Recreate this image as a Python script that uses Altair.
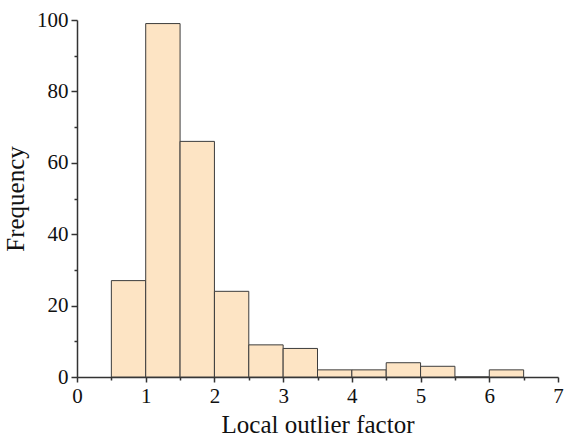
import altair as alt
import pandas as pd

bin_start = [0.5, 1.0, 1.5, 2.0, 2.5, 3.0, 3.5, 4.0, 4.5, 5.0, 5.5, 6.0]
bin_end = [1.0, 1.5, 2.0, 2.5, 3.0, 3.5, 4.0, 4.5, 5.0, 5.5, 6.0, 6.5]
counts = [27, 99, 66, 24, 9, 8, 2, 2, 4, 3, 0, 2]

x_ticks = [i * 0.5 for i in range(15)]
y_ticks = list(range(0, 101, 10))

df = pd.DataFrame({"start": bin_start, "end": bin_end, "count": counts})

FONT = "Liberation Serif"

x_axis = alt.Axis(
    values=x_ticks,
    labelExpr="datum.value % 1 === 0 ? format(datum.value, 'd') : ''",
    tickSize={"condition": {"test": "datum.value % 1 !== 0", "value": 3}, "value": 5},
    labelOverlap=False,
    labelFlush=False,
    labelPadding=3,
    titlePadding=6,
    grid=False,
    title="Local outlier factor",
)
y_axis = alt.Axis(
    values=y_ticks,
    labelExpr="datum.value % 20 === 0 ? format(datum.value, 'd') : ''",
    tickSize={"condition": {"test": "datum.value % 20 !== 0", "value": 3}, "value": 6},
    labelOverlap=False,
    labelFlush=False,
    labelPadding=3,
    titlePadding=8,
    grid=False,
    title="Frequency",
)

chart = (
    alt.Chart(df)
    .mark_bar(fill="#FDE4C4", stroke="#3c3c3c", strokeWidth=1)
    .encode(
        x=alt.X("start:Q", scale=alt.Scale(domain=[0, 7], nice=False), axis=x_axis),
        x2="end:Q",
        y=alt.Y("count:Q", scale=alt.Scale(domain=[0, 100], nice=False), axis=y_axis),
        y2=alt.datum(0),
    )
    .properties(
        width=481,
        height=357,
        autosize=alt.AutoSizeParams(type="none"),
        padding={"left": 77, "top": 20, "right": 7, "bottom": 61},
    )
    .configure_view(stroke=None)
    .configure_axis(
        domainColor="#333333",
        domainWidth=1.5,
        tickColor="#333333",
        tickWidth=1.5,
        labelFont=FONT,
        labelFontSize=21,
        labelColor="#111111",
        titleFont=FONT,
        titleFontSize=25,
        titleFontWeight="normal",
        titleColor="#111111",
    )
)

chart.save("out.html", embed_options={"renderer": "svg", "actions": False})
